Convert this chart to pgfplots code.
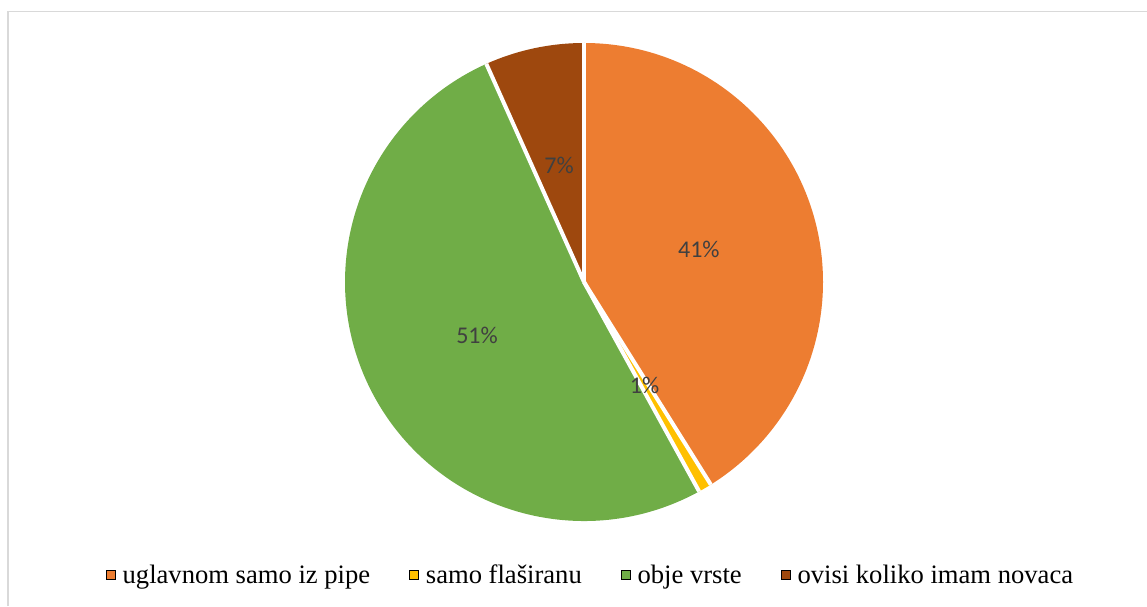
\documentclass[border=0pt]{standalone}
\usepackage{fontspec}
\setmainfont{Liberation Serif}
\newfontfamily\labelfont{Carlito}
\usepackage{pgfplots}
\usepackage{pgfplotstable}
\usetikzlibrary{calc}
\pgfplotsset{compat=1.18}
\definecolor{cOrange}{HTML}{ED7D31}
\definecolor{cYellow}{HTML}{FFC000}
\definecolor{cGreen}{HTML}{70AD47}
\definecolor{cBrown}{HTML}{9E480E}
\definecolor{cLabel}{HTML}{404040}
\definecolor{cFrame}{HTML}{D9D9D9}

\pgfplotstableread{
pct
41.1
0.9
51.3
6.7
}\piedata

\begin{document}
\begin{tikzpicture}
% cumulative angles from the data (Excel: start at 12 o'clock, clockwise)
\def\cum{0}
\pgfplotsforeachungrouped \i in {0,1,2,3}{%
  \pgfplotstablegetelem{\i}{pct}\of\piedata
  \let\v\pgfplotsretval
  \pgfmathsetmacro\sa{90-3.6*\cum}%
  \pgfmathsetmacro\ea{90-3.6*(\cum+\v)}%
  \pgfmathsetmacro\ma{90-3.6*(\cum+\v/2)}%
  \pgfmathtruncatemacro\lb{round(\v)}%
  \pgfmathsetmacro\newcum{\cum+\v}%
  \global\expandafter\let\csname sa\i\endcsname\sa
  \global\expandafter\let\csname ea\i\endcsname\ea
  \global\expandafter\let\csname ma\i\endcsname\ma
  \global\expandafter\let\csname lb\i\endcsname\lb
  \global\let\cum\newcum
}
\begin{axis}[
  name=ax,
  scale only axis,
  width=573.5pt, height=303pt,
  xmin=0, xmax=1147, ymin=0, ymax=606,
  hide axis, clip=false,
  legend columns=4,
  legend image code/.code={\fill[#1] (0pt,2.4pt) rectangle (4.4pt,6.8pt);},
  legend style={draw=none, fill=none, at={(axis cs:589.5,30)}, anchor=center,
    inner sep=0pt, font=\fontsize{13.3}{15}\selectfont,
    nodes={inner sep=0pt, anchor=base},
    /tikz/every odd column/.append style={column sep=3.6pt},
    /tikz/every even column/.append style={column sep=19.5pt}},
]
\path (axis cs:0,0) rectangle (axis cs:1147,606);
\draw[cFrame, line width=0.8pt] (axis cs:8,0) -- (axis cs:8,594.3) -- (axis cs:1147,594.3);

\addlegendimage{fill=cOrange}\addlegendentry{uglavnom samo iz pipe}
\addlegendimage{fill=cYellow}\addlegendentry{samo flaširanu}
\addlegendimage{fill=cGreen}\addlegendentry{obje vrste}
\addlegendimage{fill=cBrown}\addlegendentry{ovisi koliko imam novaca}

\fill[cOrange] (axis cs:584,324) -- ++(\csname sa0\endcsname:119.5pt) arc[start angle=\csname sa0\endcsname, end angle=\csname ea0\endcsname, radius=119.5pt] -- cycle;
\fill[cYellow] (axis cs:584,324) -- ++(\csname sa1\endcsname:119.5pt) arc[start angle=\csname sa1\endcsname, end angle=\csname ea1\endcsname, radius=119.5pt] -- cycle;
\fill[cGreen] (axis cs:584,324) -- ++(\csname sa2\endcsname:119.5pt) arc[start angle=\csname sa2\endcsname, end angle=\csname ea2\endcsname, radius=119.5pt] -- cycle;
\fill[cBrown] (axis cs:584,324) -- ++(\csname sa3\endcsname:119.5pt) arc[start angle=\csname sa3\endcsname, end angle=\csname ea3\endcsname, radius=119.5pt] -- cycle;
\draw[white, line width=2pt, line join=round] (axis cs:584,324) -- ++(\csname sa0\endcsname:119.5pt);
\draw[white, line width=2pt, line join=round] (axis cs:584,324) -- ++(\csname sa1\endcsname:119.5pt);
\draw[white, line width=2pt, line join=round] (axis cs:584,324) -- ++(\csname sa2\endcsname:119.5pt);
\draw[white, line width=2pt, line join=round] (axis cs:584,324) -- ++(\csname sa3\endcsname:119.5pt);

\node[text=cLabel, font=\labelfont\fontsize{12}{14}\selectfont] at ($(axis cs:584,324)+(\csname ma0\endcsname:59.75pt)$) {\csname lb0\endcsname\%};
\node[text=cLabel, font=\labelfont\fontsize{12}{14}\selectfont] at ($(axis cs:584,324)+(\csname ma1\endcsname:59.75pt)$) {\csname lb1\endcsname\%};
\node[text=cLabel, font=\labelfont\fontsize{12}{14}\selectfont] at ($(axis cs:584,324)+(\csname ma2\endcsname:59.75pt)$) {\csname lb2\endcsname\%};
\node[text=cLabel, font=\labelfont\fontsize{12}{14}\selectfont] at ($(axis cs:584,324)+(\csname ma3\endcsname:59.75pt)$) {\csname lb3\endcsname\%};
\end{axis}
\pgfresetboundingbox
\path[use as bounding box] (ax.south west) rectangle (ax.north east);
\end{tikzpicture}
\end{document}
